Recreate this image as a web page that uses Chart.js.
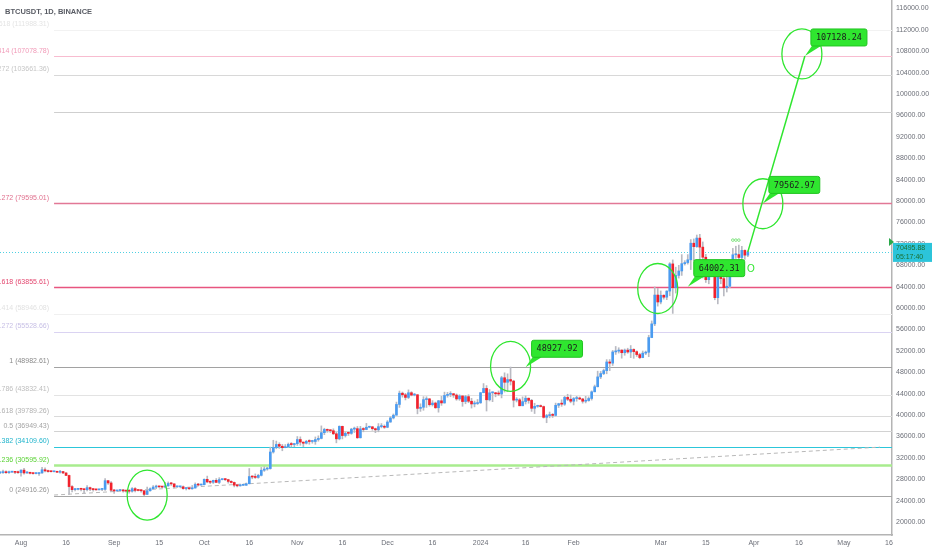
<!DOCTYPE html>
<html>
<head>
<meta charset="utf-8">
<script src="https://cdn.jsdelivr.net/npm/chart.js@4.4.1/dist/chart.umd.min.js"></script>
<style>
  body { margin: 0; background: #ffffff; }
  canvas { display: block; }
</style>
</head>
<body>
<canvas id="btcChart" width="932" height="550"></canvas>
<script>
// daily candles BTCUSDT, first candle 2023-07-25, open of each day = previous close
const startDate = '2023-07-25';
const firstOpen = 29180;
const closes = [
  29230, 29350, 29220, 29320, 29350, 29280, 29230,
  29700, 29170, 29180, 29100, 29050, 29050, 29180, 29770, 29560, 29430, 29400, 29420, 29300, 29430, 29170, 28700,
  26620, 26050, 26100, 26190, 26120, 26040, 26430, 26160, 26050, 26010, 26090, 26100, 27730, 27300, 25940,
  25800, 25870, 25970, 25810, 25780, 25750, 26240, 25910, 25890, 25840, 25160, 25840, 26220, 26530, 26610,
  26570, 26530, 26760, 27210, 27130, 26570, 26580, 26580, 26250, 26300, 26210, 26350, 27030, 26910, 26970,
  27980, 27500, 27430, 27790, 27410, 27930, 27950, 27920, 27590, 27390, 26880, 26760, 26860, 26870, 27160,
  28500, 28410, 28330, 28720, 29680, 29910, 29990, 33090, 33920, 34500, 34160, 33900, 34090, 34530, 34480, 34650,
  35420, 34940, 34730, 35080, 35050, 35050, 35420, 35630, 36700, 37310, 37130, 37060, 36490, 35550, 37880,
  36160, 36590, 36570, 37360, 37450, 35750, 37420, 37290, 37720, 37800, 37450, 37240, 37830, 37850, 37710,
  38690, 39460, 39970, 41980, 44080, 43780, 43290, 44170, 43730, 43790, 41240, 41450, 42880, 43020, 41930,
  42240, 41360, 42660, 42260, 43660, 43860, 43990, 43730, 43010, 43570, 42520, 43440, 42580, 42070, 42140, 42280,
  44180, 44970, 42850, 44150, 44160, 43970, 43930, 46970, 46120, 46630, 46340, 42780, 42840, 41730, 42510,
  43140, 42740, 41260, 41620, 41660, 41580, 39570, 39890, 40080, 39930, 41820, 42120, 42030, 43300, 42950, 42580,
  43080, 43190, 43000, 42580, 42710, 43090, 44340, 45290, 47130, 47750, 48300, 49920, 49700, 51800, 51940,
  52140, 51650, 52140, 51780, 52260, 51850, 51300, 50740, 51570, 51730, 54480, 57040, 62430, 61130,
  62390, 62030, 63170, 68250, 63800, 66100, 66930, 68300, 68500, 69020, 72120, 71480, 73080, 71390, 69500,
  65300, 68390, 67610, 61940, 67840, 65500, 63800, 64080, 67230, 69960, 69990, 69450, 70780, 69890, 70496
];
const highs = [
  29380, 29690, 29570, 29530, 29410, 29450, 29530,
  29740, 30050, 29410, 29320, 29110, 29170, 29250, 30240, 30130, 29690, 29540, 29470, 29460, 29680, 29480, 29230,
  28770, 26820, 26280, 26300, 26260, 26140, 26800, 26550, 26300, 26090, 26170, 26250, 28140, 27760, 27580,
  26130, 25980, 26130, 26100, 25850, 26040, 26440, 26430, 25940, 26000, 25880, 26540, 26400, 26810, 26890,
  26670, 26620, 27410, 27490, 27380, 27160, 26740, 26630, 26740, 26430, 26390, 26830, 27310, 27230, 27090,
  28060, 28580, 27680, 27830, 28120, 28290, 28000, 28110, 27990, 27730, 27480, 26940, 27100, 26980, 27290,
  30000, 28620, 28990, 28930, 30200, 30350, 30200, 34000, 35280, 35130, 34820, 34500, 34480, 34770, 34850, 34720,
  35980, 35920, 34950, 35260, 35380, 35280, 35900, 36110, 37970, 37530, 37400, 37230, 37420, 36770, 37980,
  37930, 36850, 36850, 37520, 37750, 37860, 37890, 37640, 38430, 37900, 37840, 37560, 38400, 38400, 38150,
  38960, 39710, 40200, 42420, 44490, 44300, 44050, 44700, 44360, 44040, 43800, 42100, 43430, 43420, 43090,
  42700, 42420, 42750, 43500, 44280, 44230, 44370, 43990, 43940, 43790, 43600, 43680, 43800, 43120, 42610, 42900,
  44180, 45880, 45500, 44780, 44330, 44230, 44500, 47250, 47890, 47700, 48970, 46500, 43260, 43080, 43400,
  43580, 43200, 42930, 42200, 41850, 41890, 41680, 40130, 40560, 40290, 42230, 42200, 42840, 43500, 43880, 43750,
  43290, 43490, 43380, 43120, 43500, 43400, 44520, 45600, 48200, 48150, 48590, 50360, 50370, 52080, 52820,
  52580, 52200, 52350, 52490, 52990, 52380, 52000, 51550, 51970, 51960, 54910, 57590, 63940, 63680,
  63200, 62480, 63240, 68480, 69000, 67640, 67990, 69990, 68860, 69990, 72800, 72920, 73650, 73780, 72360,
  70040, 68920, 68230, 68130, 68100, 68240, 66650, 65970, 67620, 71150, 71560, 71770, 71550, 70900, 70700
];
const lows = [
  29050, 29100, 29090, 29100, 29260, 29030, 29100,
  28580, 28950, 29100, 28970, 28960, 28970, 28700, 29100, 29360, 29320, 29350, 29360, 29250, 29110, 29050, 28700,
  25170, 25620, 25800, 26000, 25800, 25350, 25800, 25860, 25780, 25970, 25980, 25880, 25910, 27020, 25660,
  25330, 25760, 25810, 25600, 25570, 25370, 25600, 25640, 25800, 25600, 24900, 25130, 25770, 26130, 26220,
  26470, 26400, 26390, 26680, 26840, 26370, 26470, 26520, 26130, 25990, 26090, 26120, 26340, 26710, 26890,
  26950, 27330, 27160, 27210, 27360, 27180, 27860, 27730, 27260, 27300, 26560, 26560, 26700, 26810, 26840,
  27110, 28080, 28140, 28180, 28600, 29460, 29680, 29880, 32880, 33690, 33750, 33320, 33870, 33930, 34040, 34080,
  34320, 34350, 34100, 34580, 34540, 34730, 34520, 35110, 35540, 36330, 36760, 36710, 36350, 34800, 35360,
  35530, 35880, 36170, 36400, 36730, 35630, 35700, 36860, 37250, 37610, 37150, 36700, 36860, 37600, 37500,
  37620, 38640, 39270, 39970, 41420, 43340, 42820, 43080, 43580, 43580, 40220, 40680, 40890, 41420, 41660,
  41680, 41250, 40530, 41800, 42210, 43330, 43420, 43300, 42760, 42740, 41630, 42100, 42300, 41300, 41520, 41970,
  42180, 44150, 40750, 42630, 42500, 43400, 43620, 43200, 44300, 44360, 45610, 41500, 42440, 41720, 41720,
  42050, 42200, 40680, 40280, 41440, 41500, 39430, 38560, 39480, 39540, 39820, 41400, 41620, 41800, 42680, 42280,
  41880, 42580, 42880, 42220, 42260, 42580, 42790, 44330, 45240, 46800, 47550, 47710, 48300, 49260, 51330,
  51580, 50630, 51170, 51540, 50720, 50600, 50950, 50520, 50700, 51280, 50900, 54450, 56700, 60360,
  60780, 61660, 61560, 62300, 59000, 62800, 65600, 66100, 68030, 68210, 67200, 68850, 71340, 68560, 65630,
  64780, 64530, 66600, 61550, 60780, 64530, 62260, 63000, 63790, 66390, 69280, 68380, 68900, 69100, 69600
];

// price axis and date axis labels
const priceTicks = [20000, 24000, 28000, 32000, 36000, 40000, 44000, 48000, 52000, 56000, 60000,
  64000, 68000, 72000, 76000, 80000, 84000, 88000, 92000, 96000, 100000, 104000, 108000, 112000, 116000];
const dateTicks = ['2023-08-01', '2023-08-16', '2023-09-01', '2023-09-16', '2023-10-01', '2023-10-16',
  '2023-11-01', '2023-11-16', '2023-12-01', '2023-12-16', '2024-01-01', '2024-01-16', '2024-02-01',
  '2024-03-01', '2024-03-16', '2024-04-01', '2024-04-16', '2024-05-01', '2024-05-16'];
const dateTickText = ['Aug', '16', 'Sep', '15', 'Oct', '16', 'Nov', '16', 'Dec', '16', '2024', '16', 'Feb',
  'Mar', '15', 'Apr', '16', 'May', '16'];

// fibonacci levels
const fibRatios = ['1.618', '1.414', '1.272', '', '1.272', '1.618', '1.414', '1.272', '1', '0.786', '0.618', '0.5', '0.382', '0.236', '0'];
const fibPrices = [111988.31, 107078.78, 103661.36, 96650, 79595.01, 63855.61, 58946.08, 55528.66,
  48982.61, 43832.41, 39789.26, 36949.43, 34109.60, 30595.92, 24916.26];
const fibLineColors = ['#f2f2f2', '#f8bcd0', '#d8d8d8', '#cfcfcf', '#e27896', '#e8557f', '#f0f0f0', '#dad3f2',
  '#a2a2a2', '#e3e3e3', '#dadada', '#d2d2d2', '#2cc6da', '#a8ec8e', '#a6a6a6'];
const fibTextColors = ['#e4e4e4', '#f19ab8', '#c6c6c6', '#c6c6c6', '#e0708e', '#e3476f', '#e2e2e2', '#c8c0e6',
  '#8a8a8a', '#bdbdbd', '#b2b2b2', '#a4a4a4', '#20b4cc', '#5ad235', '#969696'];

const lastPrice = 70495.88;
const countdown = '05:17:40';

// projection path and trend line
const projDates = ['2024-03-30', '2024-04-18'];
const projValues = [70495.88, 107128.24];
const trendDates = ['2023-08-12', '2024-05-13'];
const trendValues = [25040, 34000];

// green callouts, circles and small marks
const calloutDates = ['2024-01-16', '2024-03-10', '2024-04-04', '2024-04-18'];
const calloutValues = [48927.92, 64002.31, 79562.97, 107128.24];
const circleDates = ['2023-09-12', '2024-01-11', '2024-02-29', '2024-04-04', '2024-04-17'];
const circleValues = [25040, 49100, 63650, 79500, 107500];
const markDates = ['2024-03-31'];
const markValues = [67300];
const dotDates = ['2024-03-25', '2024-03-26', '2024-03-27'];
const dotValues = [72700, 72700, 72700];

const DAY = 86400000;
function dayIndex(s) {
  return Math.round((Date.parse(s) - Date.parse(startDate)) / DAY);
}

const opens = closes.map((c, i) => i === 0 ? firstOpen : closes[i - 1]);
const bodyData = closes.map((c, i) => ({x: i, y: [opens[i], c]}));
const wickData = closes.map((c, i) => ({x: i, y: [lows[i], highs[i]]}));
const bodyColors = closes.map((c, i) => c >= opens[i] ? '#4a9bf0' : '#f2212c');

const FONT = "'Liberation Sans', Arial, sans-serif";
const axisFont = {family: FONT, size: 7};
const GREEN = '#2fe62f';

const overlay = {
  id: 'overlay',
  beforeDatasetsDraw(chart) {
    const ctx = chart.ctx, y = chart.scales.y, a = chart.chartArea;
    const xStart = chart.scales.x.getPixelForValue(18);
    ctx.save();
    fibPrices.forEach((p, i) => {
      const py = Math.round(y.getPixelForValue(p)) + 0.5;
      ctx.strokeStyle = fibLineColors[i];
      ctx.lineWidth = fibRatios[i] === '0.236' ? 2.5 : (i === 4 || i === 5 ? 1.5 : 1);
      ctx.beginPath();
      ctx.moveTo(xStart, py);
      ctx.lineTo(a.right, py);
      ctx.stroke();
    });
    // last price dotted line
    const ly = Math.round(y.getPixelForValue(lastPrice)) + 0.5;
    ctx.strokeStyle = '#4fd0e2';
    ctx.setLineDash([1, 2]);
    ctx.lineWidth = 1;
    ctx.beginPath();
    ctx.moveTo(a.left, ly);
    ctx.lineTo(a.right, ly);
    ctx.stroke();
    ctx.restore();
  },
  afterDatasetsDraw(chart) {
    const ctx = chart.ctx, x = chart.scales.x, y = chart.scales.y;
    ctx.save();
    // fib labels
    ctx.font = '7px ' + FONT;
    ctx.textAlign = 'right';
    ctx.textBaseline = 'bottom';
    fibPrices.forEach((p, i) => {
      if (!fibRatios[i]) return;
      ctx.fillStyle = fibTextColors[i];
      ctx.fillText(fibRatios[i] + ' (' + p.toFixed(2) + ')', 49, y.getPixelForValue(p) - 2);
    });
    // title
    ctx.textAlign = 'left';
    ctx.textBaseline = 'middle';
    ctx.fillStyle = '#595c64';
    ctx.font = 'bold 7.5px ' + FONT;
    ctx.fillText('BTCUSDT, 1D, BINANCE', 5, 12);
    // circles
    ctx.strokeStyle = GREEN;
    ctx.lineWidth = 1.3;
    circleDates.forEach((d, i) => {
      const cx = x.getPixelForValue(dayIndex(d)), cy = y.getPixelForValue(circleValues[i]);
      ctx.beginPath();
      ctx.ellipse(cx, cy, 20, 25, 0, 0, Math.PI * 2);
      ctx.stroke();
    });
    // small marks
    ctx.strokeStyle = '#7ee27e';
    ctx.lineWidth = 1;
    dotDates.forEach((d, i) => {
      ctx.beginPath();
      ctx.arc(x.getPixelForValue(dayIndex(d)), y.getPixelForValue(dotValues[i]), 1.3, 0, Math.PI * 2);
      ctx.stroke();
    });
    ctx.fillStyle = GREEN;
    ctx.font = '10px ' + FONT;
    ctx.textAlign = 'center';
    ctx.textBaseline = 'middle';
    markDates.forEach((d, i) => {
      ctx.fillText('O', x.getPixelForValue(dayIndex(d)), y.getPixelForValue(markValues[i]));
    });
    // callouts
    ctx.font = "8.5px 'DejaVu Sans Mono', monospace";
    calloutDates.forEach((d, i) => {
      const ax = x.getPixelForValue(dayIndex(d)), ay = y.getPixelForValue(calloutValues[i]);
      const txt = calloutValues[i].toFixed(2);
      const w = ctx.measureText(txt).width + 10, h = 17;
      const bx = ax + 6, by = ay - 10 - h;
      ctx.fillStyle = GREEN;
      ctx.beginPath();
      ctx.moveTo(bx + 3, by + h - 3);
      ctx.lineTo(bx + 10, by + h);
      ctx.lineTo(ax, ay);
      ctx.closePath();
      ctx.fill();
      ctx.beginPath();
      ctx.roundRect(bx, by, w, h, 2);
      ctx.fill();
      ctx.strokeStyle = '#22c422';
      ctx.lineWidth = 1;
      ctx.stroke();
      ctx.fillStyle = '#1c1c1c';
      ctx.textAlign = 'center';
      ctx.textBaseline = 'middle';
      ctx.fillText(txt, bx + w / 2, by + h / 2 + 0.5);
    });
    ctx.restore();
  },
  afterDraw(chart) {
    const ctx = chart.ctx, y = chart.scales.y, a = chart.chartArea;
    const ly = y.getPixelForValue(lastPrice);
    ctx.save();
    ctx.fillStyle = '#2cc4da';
    ctx.fillRect(a.right + 1, ly - 9, 40, 19);
    ctx.fillStyle = '#2aa84a';
    ctx.beginPath();
    ctx.moveTo(a.right - 3, ly - 14);
    ctx.lineTo(a.right + 2, ly - 10);
    ctx.lineTo(a.right - 3, ly - 6);
    ctx.closePath();
    ctx.fill();
    ctx.fillStyle = '#1d6e2e';
    ctx.font = '7px ' + FONT;
    ctx.textAlign = 'left';
    ctx.textBaseline = 'middle';
    ctx.fillText(lastPrice.toFixed(2), a.right + 4, ly - 4);
    ctx.fillText(countdown, a.right + 4, ly + 5);
    ctx.restore();
  }
};

new Chart(document.getElementById('btcChart').getContext('2d'), {
  data: {
    datasets: [
      {
        type: 'bar', data: bodyData, backgroundColor: bodyColors,
        barThickness: 2, minBarLength: 1, grouped: false, order: 0
      },
      {
        type: 'bar', data: wickData, backgroundColor: '#b9bac2',
        barThickness: 1, grouped: false, order: 1
      },
      {
        type: 'line', data: projDates.map((d, i) => ({x: dayIndex(d), y: projValues[i]})),
        borderColor: GREEN, borderWidth: 1.5, pointRadius: 0, order: -1
      },
      {
        type: 'line', data: trendDates.map((d, i) => ({x: dayIndex(d), y: trendValues[i]})),
        borderColor: '#b8b8b8', borderWidth: 1, borderDash: [4, 3], pointRadius: 0, order: 2
      }
    ]
  },
  options: {
    responsive: false,
    animation: false,
    layout: {padding: 0},
    plugins: {legend: {display: false}, tooltip: {enabled: false}},
    scales: {
      x: {
        type: 'linear', min: 0, max: 297, offset: false,
        grid: {display: false, drawTicks: false, tickLength: 0},
        border: {display: true, color: '#b4b4b4', width: 1.5},
        ticks: {
          font: axisFont, color: '#6c6f78', padding: 4, maxRotation: 0, autoSkip: false,
          callback: (v) => {
            const k = dateTicks.findIndex((d) => dayIndex(d) === v);
            return k >= 0 ? dateTickText[k] : '';
          }
        },
        afterBuildTicks: (s) => { s.ticks = dateTicks.map((d) => ({value: dayIndex(d)})); },
        afterFit: (s) => { s.height = 15; s.paddingLeft = 0; s.paddingRight = 0; }
      },
      y: {
        type: 'linear', position: 'right', min: 17570, max: 117590,
        grid: {display: false, drawTicks: false, tickLength: 0},
        border: {display: true, color: '#b4b4b4', width: 1.5},
        ticks: {
          font: axisFont, color: '#6c6f78', padding: 4,
          callback: (v) => Number(v).toFixed(2)
        },
        afterBuildTicks: (s) => { s.ticks = priceTicks.map((v) => ({value: v})); },
        afterFit: (s) => { s.width = 40; s.paddingTop = 0; s.paddingBottom = 0; }
      }
    }
  },
  plugins: [overlay]
});
</script>
</body>
</html>
